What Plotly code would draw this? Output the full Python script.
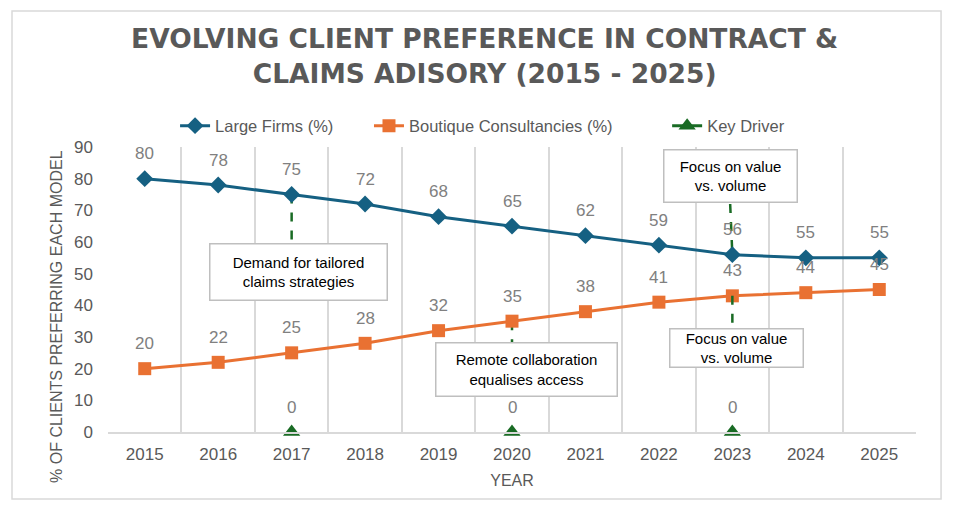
import plotly.graph_objects as go

# Data
years = ['2015', '2016', '2017', '2018', '2019', '2020', '2021', '2022', '2023', '2024', '2025']
large_firms = [80, 78, 75, 72, 68, 65, 62, 59, 56, 55, 55]
boutique = [20, 22, 25, 28, 32, 35, 38, 41, 43, 44, 45]
key_driver = [None, None, 0, None, None, 0, None, None, 0, None, None]
y_ticks = [0, 10, 20, 30, 40, 50, 60, 70, 80, 90]

BLUE = '#156082'
ORANGE = '#E97132'
GREEN = '#196B24'
GREY = '#595959'
GRID = '#d9d9d9'
FONT = 'Liberation Sans, Arial, sans-serif'

fig = go.Figure()

fig.add_trace(go.Scatter(x=years, y=large_firms, name='Large Firms (%)', mode='lines+markers',
                         line=dict(color=BLUE, width=3),
                         marker=dict(symbol='diamond', size=13, color=BLUE),
                         cliponaxis=False, legend='legend'))
fig.add_trace(go.Scatter(x=years, y=boutique, name='Boutique Consultancies (%)', mode='lines+markers',
                         line=dict(color=ORANGE, width=3),
                         marker=dict(symbol='square', size=13, color=ORANGE),
                         cliponaxis=False, legend='legend2'))
fig.add_trace(go.Scatter(x=years, y=key_driver, name='Key Driver', mode='lines+markers',
                         line=dict(color=GREEN, width=3),
                         marker=dict(symbol='triangle-up', size=15, color=GREEN),
                         cliponaxis=False, legend='legend3'))

# data labels above each point
annotations = []
for series in (large_firms, boutique, key_driver):
    for i, v in enumerate(series):
        if v is None:
            continue
        annotations.append(dict(x=i, y=v, text=str(v), showarrow=False, yshift=25,
                                font=dict(family=FONT, size=17, color='#808080')))

# driver call-out boxes
box = dict(showarrow=False, bgcolor='white', bordercolor='#bfbfbf', borderwidth=1.5,
           borderpad=0, font=dict(family=FONT, size=15, color='black'))
annotations += [
    dict(x=2.09, y=50.5, text='Demand for tailored<br>claims strategies', width=176, height=55, **box),
    dict(x=5.2, y=19.6, text='Remote collaboration<br>equalises access', width=180, height=52, **box),
    dict(x=7.98, y=80.7, text='Focus on value<br>vs. volume', width=132, height=51, **box),
    dict(x=8.05, y=26.4, text='Focus on value<br>vs. volume', width=132, height=37, **box),
]

# y-axis title
annotations.append(dict(x=-0.063, y=0.404, xref='paper', yref='paper', xanchor='center', yanchor='middle',
                        text='% OF CLIENTS PREFERRING EACH MODEL', textangle=-90, showarrow=False,
                        font=dict(family=FONT, size=16, color=GREY)))

# dashed leader lines from the drivers to their call-outs
dash = dict(type='line', line=dict(color=GREEN, width=2.5, dash='dash'), layer='below')
i17, i20, i23 = years.index('2017'), years.index('2020'), years.index('2023')
shapes = [
    dict(x0=i17, x1=i17, y0=large_firms[i17], y1=59.3, **dash),
    dict(x0=i20, x1=i20, y0=boutique[i20], y1=28, **dash),
    dict(x0=i23 - 0.03, x1=i23, y0=72, y1=large_firms[i23], **dash),
    dict(x0=i23, x1=i23, y0=boutique[i23], y1=26, type='line',
         line=dict(color=GREEN, width=2.5, dash='dash'), layer='above'),
    # outer chart border
    dict(type='rect', xref='paper', yref='paper', x0=-0.1188, x1=1.031, y0=-0.235, y1=1.477,
         line=dict(color=GRID, width=1.5), layer='below'),
]

legend_style = dict(orientation='h', xanchor='left', y=1.074, yanchor='middle',
                    font=dict(family=FONT, size=16.5, color=GREY), bgcolor='rgba(0,0,0,0)')

layout = go.Layout(
    width=961, height=510,
    paper_bgcolor='white', plot_bgcolor='white',
    margin=dict(l=100, r=53, t=139, b=86),
    title=dict(text='EVOLVING CLIENT PREFERENCE IN CONTRACT &<br>CLAIMS ADISORY (2015 - 2025)',
               x=0.496, xanchor='center', y=0.921, yanchor='middle', yref='container',
               font=dict(family='DejaVu Sans, sans-serif', size=26.5, color=GREY, weight='bold')),
    legend=dict(x=0.083, **legend_style),
    legend2=dict(x=0.323, **legend_style),
    legend3=dict(x=0.692, **legend_style),
    xaxis=dict(type='category', range=[-0.5, 10.5], tickson='boundaries', ticks='',
               showgrid=True, gridcolor=GRID, gridwidth=1.5,
               showline=True, linecolor=GRID, linewidth=1.5,
               tickfont=dict(family=FONT, size=17, color=GREY), ticklabelstandoff=6,
               title=dict(text='YEAR', font=dict(family=FONT, size=16, color=GREY), standoff=12),
               automargin=False),
    yaxis=dict(range=[0, 90], tickvals=y_ticks, showgrid=False, zeroline=False,
               showline=False, ticks='',
               tickfont=dict(family=FONT, size=17, color=GREY), ticklabelstandoff=14,
               automargin=False),
    annotations=annotations,
    shapes=shapes,
    showlegend=True,
)

fig = go.Figure(data=fig.data, layout=layout)
fig.write_html('out.html')
